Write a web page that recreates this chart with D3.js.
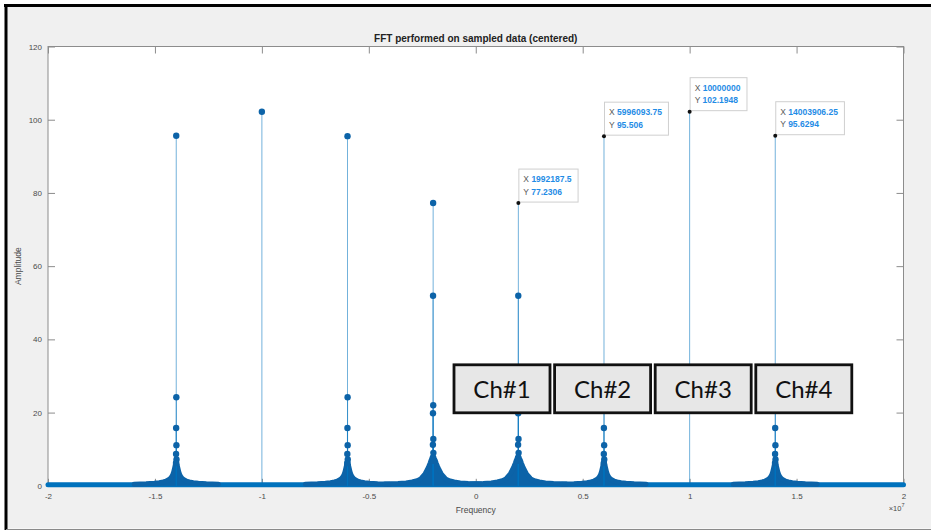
<!DOCTYPE html>
<html>
<head>
<meta charset="utf-8">
<script src="https://cdn.jsdelivr.net/npm/d3@7"></script>
<style>
  html, body { margin: 0; padding: 0; background: #ffffff; }
  svg { display: block; font-family: "Liberation Sans", Arial, Helvetica, sans-serif; }
</style>
</head>
<body>
<svg id="chart" width="931" height="531"></svg>
<script>
// ---- spectrum data -------------------------------------------------------
const binHz = 3906.25;                       // FFT bin width
const peakFreqs = [-14003906.25, -10000000, -5996093.75, -1992187.5,
                    1992187.5, 5996093.75, 10000000, 14003906.25];
const peakAmps  = [95.6294, 102.1948, 95.506, 77.2306,
                   77.2306, 95.506, 102.1948, 95.6294];
const peakKind  = ["narrow", "none", "narrow", "wide", "wide", "narrow", "none", "narrow"];

// leakage bins right next to a peak (bin offset, amplitude)
const narrowLeakBins = [1, -1, 2, -2, 3, -3];
const narrowLeakAmps = [24.2, 15.8, 11.1, 8.7, 7.2, 6.2];
const wideLeakBins   = [-1, 1, -2, 2, -3, 3, -4, 4];
const wideLeakAmps   = [51.9, 22.0, 19.8, 12.8, 11.2, 9.0, 7.6, 6.8];

// skirt envelope further out from a peak (bin distance, amplitude)
const narrowSkirtBins = [5, 10, 18, 30, 42, 54, 72, 96, 120, 156, 204, 264, 360, 504];
const narrowSkirtAmps = [6.5, 5.8, 5.0, 3.8, 3.0, 2.5, 2.0, 1.6, 1.3, 1.05, 0.85, 0.7, 0.55, 0.42];
const wideSkirtBins   = [5, 12, 24, 36, 54, 72, 96, 120, 144, 168, 204, 252, 324, 420, 576];
const wideSkirtAmps   = [8.0, 7.6, 7.0, 6.2, 5.2, 4.3, 3.3, 2.6, 2.0, 1.6, 1.3, 1.05, 0.8, 0.62, 0.48];

const noiseFloor = 0.3;                      // level of the dense low-amplitude bins
const freqDomain = [-2e7, 2e7];
const ampDomain  = [0, 120];
const xTicks = [-2, -1.5, -1, -0.5, 0, 0.5, 1, 1.5, 2];   // x 10^7
const yTicks = [0, 20, 40, 60, 80, 100, 120];

// data tips
const tipFreqs = [1992187.5, 5996093.75, 10000000, 14003906.25];
const tipAmps  = [77.2306, 95.506, 102.1948, 95.6294];

const channels = ["Ch#1", "Ch#2", "Ch#3", "Ch#4"];

// ---- layout ---------------------------------------------------------------
const W = 931, H = 531;
const plot = { left: 48, right: 903.5, top: 46.5, bottom: 485.8 };
const BLUE = "#0072BD", DARK = "#0c63a8";

const svg = d3.select("#chart");

const x = d3.scaleLinear().domain(freqDomain).range([plot.left, plot.right]);
const y = d3.scaleLinear().domain(ampDomain).range([plot.bottom, plot.top]);

// figure background + frame
svg.append("rect").attr("x", 6).attr("y", 5.5).attr("width", W - 6).attr("height", H - 8)
  .attr("fill", "#f0f0f0");
svg.append("line").attr("x1", 4).attr("x2", W).attr("y1", 5.5).attr("y2", 5.5)
  .attr("stroke", "#000").attr("stroke-width", 3);
svg.append("line").attr("x1", 6).attr("x2", 6).attr("y1", 4).attr("y2", 530)
  .attr("stroke", "#000").attr("stroke-width", 3);
svg.append("line").attr("x1", 6).attr("x2", W).attr("y1", 529.5).attr("y2", 529.5)
  .attr("stroke", "#8a8a8a").attr("stroke-width", 1.2);

// plot area
svg.append("rect")
  .attr("x", plot.left).attr("y", plot.top)
  .attr("width", plot.right - plot.left).attr("height", plot.bottom - plot.top)
  .attr("fill", "#ffffff");

// ---- axes (drawn under the data) -----------------------------------------
const axisColor = "#8c8c8c", textColor = "#4a4a4a";
function styleAxis(g) {
  g.select(".domain").remove();
  g.selectAll(".tick line").attr("stroke", axisColor);
  g.selectAll(".tick text").attr("fill", textColor).attr("font-size", 8);
}
const xTickVals = xTicks.map(v => v * 1e7);
const yTickVals = yTicks;

svg.append("g").attr("transform", `translate(0,${plot.bottom})`)
  .call(d3.axisBottom(x).tickValues(xTickVals).tickSize(-7).tickPadding(8)
    .tickFormat(d => String(d / 1e7)))
  .call(styleAxis);
svg.append("g").attr("transform", `translate(0,${plot.top})`)
  .call(d3.axisTop(x).tickValues(xTickVals).tickSize(-7).tickFormat(""))
  .call(styleAxis);
svg.append("g").attr("transform", `translate(${plot.left},0)`)
  .call(d3.axisLeft(y).tickValues(yTickVals).tickSize(-7).tickPadding(6)
    .tickFormat(d => String(d)))
  .call(styleAxis);
svg.append("g").attr("transform", `translate(${plot.right},0)`)
  .call(d3.axisRight(y).tickValues(yTickVals).tickSize(-7).tickFormat(""))
  .call(styleAxis);

svg.append("rect")
  .attr("x", plot.left).attr("y", plot.top)
  .attr("width", plot.right - plot.left).attr("height", plot.bottom - plot.top)
  .attr("fill", "none").attr("stroke", axisColor).attr("stroke-width", 1);

// titles
svg.append("text").attr("x", (plot.left + plot.right) / 2).attr("y", 42)
  .attr("text-anchor", "middle").attr("font-size", 10).attr("font-weight", "bold")
  .attr("fill", "#222").text("FFT performed on sampled data (centered)");
svg.append("text").attr("x", (plot.left + plot.right) / 2).attr("y", 513)
  .attr("text-anchor", "middle").attr("font-size", 8.5).attr("fill", textColor)
  .text("Frequency");
svg.append("text")
  .attr("transform", `translate(21,${(plot.top + plot.bottom) / 2}) rotate(-90)`)
  .attr("text-anchor", "middle").attr("font-size", 8.5).attr("fill", textColor)
  .text("Amplitude");
const expo = svg.append("text").attr("x", plot.right + 1).attr("y", 511)
  .attr("text-anchor", "end").attr("font-size", 7.5).attr("fill", textColor);
expo.append("tspan").text("\u00d710");
expo.append("tspan").attr("font-size", 5.5).attr("dy", -4).text("7");

// ---- spectrum ------------------------------------------------------------
const data = svg.append("g");

// dense noise floor of low-amplitude bins
data.append("path")
  .datum(freqDomain.map(f => ({ f, a: noiseFloor })))
  .attr("d", d3.line().x(d => x(d.f)).y(d => y(d.a)))
  .attr("stroke", BLUE).attr("stroke-width", 5).attr("stroke-linecap", "round")
  .attr("fill", "none");

const skirtArea = d3.area().x(d => x(d.f)).y0(y(0)).y1(d => y(d.a));
const skirtLine = d3.line().x(d => x(d.f)).y(d => y(d.a));

peakFreqs.forEach((pf, i) => {
  const kind = peakKind[i];
  if (kind === "none") return;
  const bins = kind === "wide" ? wideSkirtBins : narrowSkirtBins;
  const amps = kind === "wide" ? wideSkirtAmps : narrowSkirtAmps;
  const left = bins.map((b, j) => ({ f: pf - b * binHz, a: amps[j] })).reverse();
  const right = bins.map((b, j) => ({ f: pf + b * binHz, a: amps[j] }));
  const pts = left.concat([{ f: pf, a: amps[0] }], right);
  data.append("path").datum(pts).attr("d", skirtArea).attr("fill", DARK);
  data.append("path").datum(pts).attr("d", skirtLine)
    .attr("fill", "none").attr("stroke", DARK).attr("stroke-width", 5)
    .attr("stroke-linejoin", "round").attr("stroke-linecap", "round");
});

// stems and markers of the peak bins and their neighbours
const stems = [];
peakFreqs.forEach((pf, i) => {
  stems.push({ f: pf, a: peakAmps[i], peak: true });
  const kind = peakKind[i];
  if (kind === "none") return;
  const lb = kind === "wide" ? wideLeakBins : narrowLeakBins;
  const la = kind === "wide" ? wideLeakAmps : narrowLeakAmps;
  lb.forEach((b, j) => stems.push({ f: pf + b * binHz, a: la[j], peak: false }));
});

data.selectAll("line.stem").data(stems).join("line").attr("class", "stem")
  .attr("x1", d => x(d.f)).attr("x2", d => x(d.f))
  .attr("y1", y(0)).attr("y2", d => y(d.a))
  .attr("stroke", BLUE).attr("stroke-width", 1).attr("stroke-opacity", 0.55);

const tipped = new Set(tipFreqs);
data.selectAll("circle.mk").data(stems.filter(d => !(d.peak && tipped.has(d.f))))
  .join("circle").attr("class", "mk")
  .attr("cx", d => x(d.f)).attr("cy", d => y(d.a)).attr("r", 3.2)
  .attr("fill", DARK);

// ---- data tips -------------------------------------------------------------
const tips = svg.append("g");
tipFreqs.forEach((f, i) => {
  const px = x(f), py = y(tipAmps[i]);
  const g = tips.append("g");
  const box = g.append("rect").attr("fill", "#ffffff").attr("fill-opacity", 0.92)
    .attr("stroke", "#cfcfcf").attr("stroke-width", 1);
  const t1 = g.append("text").attr("x", px + 5).attr("y", py - 21).attr("font-size", 8.5);
  t1.append("tspan").attr("fill", "#5a5a5a").text("X ");
  t1.append("tspan").attr("fill", "#1f8ce6").attr("font-weight", "bold").text(String(f));
  const t2 = g.append("text").attr("x", px + 5).attr("y", py - 8.5).attr("font-size", 8.5);
  t2.append("tspan").attr("fill", "#5a5a5a").text("Y ");
  t2.append("tspan").attr("fill", "#1f8ce6").attr("font-weight", "bold").text(String(tipAmps[i]));
  const w = Math.max(t1.node().getComputedTextLength(), t2.node().getComputedTextLength()) + 11;
  box.attr("x", px + 0.5).attr("y", py - 34).attr("width", w).attr("height", 33);
  g.append("circle").attr("cx", px).attr("cy", py).attr("r", 2).attr("fill", "#111");
});

// ---- channel labels ------------------------------------------------------
const chBox = { x0: 454, step: 100.6, w: 96, top: 364.8, h: 48 };
const ch = svg.append("g");
channels.forEach((c, i) => {
  const bx = chBox.x0 + i * chBox.step;
  ch.append("rect").attr("x", bx).attr("y", chBox.top).attr("width", chBox.w).attr("height", chBox.h)
    .attr("fill", "#e7e7e7").attr("stroke", "#111").attr("stroke-width", 2.8);
  ch.append("text").attr("x", bx + chBox.w / 2).attr("y", chBox.top + 33)
    .attr("text-anchor", "middle").attr("font-family", "Lato, 'Open Sans', sans-serif")
    .attr("font-size", 24).attr("fill", "#111").text(c);
});
</script>
</body>
</html>
